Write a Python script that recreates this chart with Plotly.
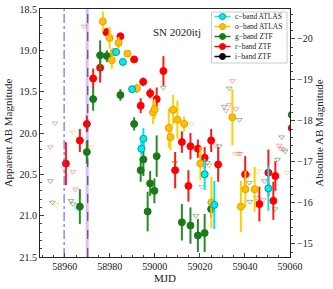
import plotly.graph_objects as go

# ---------------- data ----------------
r_mjd = [58960.5, 58966.7, 58969.8, 58972.6, 58975.7, 58978.5, 58984.7, 58990.8, 58993.7, 58994.8,
         58997.9, 59000.8, 59003.8, 59009.0, 59012.0, 59014.9, 59015.8, 59019.1, 59022.1, 59025.0,
         59028.1, 59040.1, 59046.4, 59050.4, 59052.6, 59053.5, 59060.8]
r_mag = [20.37, 20.09, 19.89, 19.34, 19.21, 18.78, 18.83, 19.11, 19.67, 19.38,
         19.52, 19.59, 19.25, 20.45, 20.11, 20.64, 20.16, 20.19, 20.30, 20.09,
         20.38, 20.50, 20.86, 20.48, 20.82, 20.52, 19.94]
r_err = [0.26, 0.14, 0.10, 0.12, 0.18, 0.05, 0.04, 0.03, 0.09, 0.05,
         0.06, 0.14, 0.18, 0.22, 0.13, 0.19, 0.16, 0.11, 0.13, 0.14,
         0.21, 0.22, 0.21, 0.28, 0.23, 0.18, 0.05]

o_mjd = [58976.9, 58979.9, 58980.9, 58981.8, 58983.9, 58987.8, 58992.0, 58999.2, 58999.9, 59006.2,
         59006.9, 59008.1, 59010.0, 59013.0, 59020.2, 59025.1, 59034.4, 59038.2, 59040.2, 59044.3]
o_mag = [18.65, 18.85, 19.12, 19.02, 18.91, 19.04, 19.46, 19.75, 19.71, 19.94,
         20.05, 19.72, 19.84, 19.89, 20.37, 20.84, 19.81, 20.89, 20.68, 20.68]
o_err = [0.12, 0.13, 0.10, 0.05, 0.07, 0.03, 0.06, 0.14, 0.12, 0.24,
         0.16, 0.18, 0.23, 0.09, 0.20, 0.31, 0.34, 0.31, 0.22, 0.27]

g_mjd = [58966.7, 58969.8, 58972.6, 58975.7, 58978.7, 58984.7, 58990.8, 58993.7, 58994.9, 58996.8,
         58997.9, 58999.8, 59000.8, 59012.0, 59015.8, 59019.1, 59022.1, 59025.0, 59060.8]
g_mag = [20.89, 20.23, 19.59, 19.06, 19.07, 19.54, 19.89, 20.45, 20.32, 20.95,
         20.61, 20.70, 20.28, 21.08, 21.12, 21.24, 21.21, 20.92, 19.78]
g_err = [0.21, 0.14, 0.14, 0.18, 0.07, 0.07, 0.08, 0.14, 0.20, 0.24,
         0.15, 0.15, 0.25, 0.22, 0.22, 0.20, 0.23, 0.10, 0.05]

c_mjd = [58982.8, 58985.8, 58989.9, 58994.0, 58994.9, 59022.1, 59026.4, 59050.4]
c_mag = [19.02, 19.14, 19.47, 20.19, 20.07, 20.50, 20.87, 20.67]
c_err = [0.03, 0.04, 0.04, 0.08, 0.13, 0.19, 0.29, 0.27]

# upper limits
r_ul_mjd = [58953.6, 58955.6, 58963.6, 58964.8, 58968.6, 59020.8, 59024.1, 59027.1, 59031.6, 59033.0,
            59034.4, 59036.0, 59036.9, 59037.8, 59041.5, 59048.1, 59050.1, 59055.3, 59055.9, 59057.0]
r_ul_mag = [20.17, 19.88, 20.47, 20.68, 18.71, 20.65, 20.39, 20.15, 19.73, 19.66,
            19.37, 19.71, 20.25, 20.25, 20.51, 20.81, 20.48, 20.15, 20.19, 20.20]
g_ul_mjd = [58953.6, 58954.5, 58962.7, 58963.7, 59003.7, 59008.8, 59018.2, 59023.3, 59028.6, 59030.7,
            59033.0, 59037.5, 59041.9, 59042.2, 59044.9, 59048.6, 59053.3, 59054.5, 59056.3, 59057.8]
g_ul_mag = [20.58, 20.84, 20.82, 20.86, 19.45, 20.36, 21.00, 20.36, 20.16, 19.68,
            19.46, 19.84, 20.60, 20.83, 20.78, 20.58, 20.92, 20.32, 20.05, 20.22]
o_ul_mjd = [58956.3, 58959.3, 58963.7, 58971.7, 59016.0, 59035.4, 59045.5, 59058.8]
o_ul_mag = [20.87, 20.42, 19.99, 20.17, 19.89, 20.25, 20.46, 20.48]
c_ul_mjd = [58965.5]
c_ul_mag = [20.92]

legend_labels = ["c\u2212band ATLAS", "o\u2212band ATLAS", "g\u2212band ZTF", "r\u2212band ZTF", "i\u2212band ZTF"]
legend_colors = ["#00EEEE", "#FFC000", "#1A7A1A", "#FF0000", "#000000"]
legend_edges = ["#009AA8", "#E8A000", "#1A7A1A", "#FF0000", "#000000"]

x_range = [58949, 59060]
y_range = [21.5, 18.5]
y2_range = [-14.68, -20.73]
lines_mjd = {"blue": 58959.7, "band0": 58969.3, "band1": 58970.6, "dash": 58970.2}

FONT = "Liberation Serif"

fig = go.Figure()

# upper limits
for xs, ys, col in [(r_ul_mjd, r_ul_mag, "rgba(255,90,90,0.5)"),
                    (g_ul_mjd, g_ul_mag, "rgba(40,130,40,0.5)"),
                    (o_ul_mjd, o_ul_mag, "rgba(255,190,60,0.5)"),
                    (c_ul_mjd, c_ul_mag, "rgba(0,200,210,0.45)")]:
    fig.add_trace(go.Scatter(x=xs, y=ys, mode="markers", showlegend=False,
                             marker=dict(symbol="triangle-down-open", size=5, color=col,
                                         line=dict(width=1, color=col))))

# detections
for name, xs, ys, es, fill, edge, ecol in [
        ("r-band ZTF", r_mjd, r_mag, r_err, "#FF0000", "#FF0000", "#FF1A1A"),
        ("g-band ZTF", g_mjd, g_mag, g_err, "#1A7A1A", "#1A7A1A", "#2A8A2A"),
        ("o-band ATLAS", o_mjd, o_mag, o_err, "#FFC000", "#E8A000", "#FFD000"),
        ("c-band ATLAS", c_mjd, c_mag, c_err, "#00EEEE", "#009AA8", "#00E5F0")]:
    fig.add_trace(go.Scatter(x=xs, y=ys, mode="markers", name=name, showlegend=False,
                             error_y=dict(type="data", array=es, color=ecol, thickness=2, width=0),
                             marker=dict(symbol="circle", size=7, color=fill,
                                         line=dict(width=1, color=edge))))

# dummy trace to activate right axis
fig.add_trace(go.Scatter(x=[None], y=[None], yaxis="y2", showlegend=False, hoverinfo="skip"))

shapes = []
shapes.append(dict(type="rect", xref="x", yref="paper", x0=lines_mjd["band0"], x1=lines_mjd["band1"],
                   y0=0, y1=1, fillcolor="rgba(170,110,255,0.45)", line=dict(width=0), layer="below"))
shapes.append(dict(type="line", xref="x", yref="paper", x0=lines_mjd["dash"], x1=lines_mjd["dash"],
                   y0=0, y1=1, line=dict(color="#555555", width=1.2, dash="dash")))
shapes.append(dict(type="line", xref="x", yref="paper", x0=lines_mjd["blue"], x1=lines_mjd["blue"],
                   y0=0, y1=1, line=dict(color="#5050FF", width=1, dash="dashdot")))


def px2paper_x(px):
    return (px - 40) / 250.0


def px2paper_y(py):
    return 1 - (py - 9) / 248.0


shapes.append(dict(type="rect", xref="paper", yref="paper",
                   x0=px2paper_x(211.5), x1=px2paper_x(287), y0=px2paper_y(63), y1=px2paper_y(12),
                   fillcolor="rgba(255,255,255,0.85)", line=dict(color="#cccccc", width=1)))
annotations = []
for i, (lab, col, edg) in enumerate(zip(legend_labels, legend_colors, legend_edges)):
    py = 16.5 + 10 * i
    yp = px2paper_y(py)
    shapes.append(dict(type="line", xref="paper", yref="paper",
                       x0=px2paper_x(214.5), x1=px2paper_x(230.5), y0=yp, y1=yp,
                       line=dict(color=col, width=1.5)))
    shapes.append(dict(type="circle", xref="paper", yref="paper", xsizemode="pixel", ysizemode="pixel",
                       xanchor=px2paper_x(222.5), yanchor=yp, x0=-3, x1=3, y0=-3, y1=3,
                       fillcolor=col, line=dict(color=edg, width=1)))
    annotations.append(dict(xref="paper", yref="paper", x=px2paper_x(233), y=yp, text=lab,
                            showarrow=False, xanchor="left", yanchor="middle",
                            font=dict(family=FONT, size=7.5, color="#222222")))

annotations.append(dict(xref="paper", yref="paper", x=px2paper_x(177), y=px2paper_y(32),
                        text="SN 2020itj", showarrow=False, xanchor="center", yanchor="middle",
                        font=dict(family=FONT, size=11, color="#222222")))

fig.update_layout(
    width=333, height=289,
    margin=dict(l=40, r=43, t=9, b=32, autoexpand=False),
    paper_bgcolor="white", plot_bgcolor="white",
    font=dict(family=FONT, size=10, color="#222222"),
    showlegend=False,
    shapes=shapes, annotations=annotations,
    xaxis=dict(range=x_range, tick0=58960, dtick=20, tickformat="d", ticks="inside", ticklen=4,
               showline=True, linecolor="#222222", linewidth=1, mirror=True, showgrid=False,
               zeroline=False, tickfont=dict(size=10),
               minor=dict(ticks="inside", ticklen=2, dtick=5, tick0=58960, tickcolor="#444444"),
               title=dict(text="MJD", font=dict(size=11), standoff=2)),
    yaxis=dict(range=y_range, tick0=18.5, dtick=0.5, tickformat=".1f", ticks="inside", ticklen=4,
               showline=True, linecolor="#222222", linewidth=1, showgrid=False, zeroline=False,
               tickfont=dict(size=10),
               minor=dict(ticks="inside", ticklen=2, dtick=0.1, tickcolor="#444444"),
               title=dict(text="Apparent AB Magnitude", font=dict(size=11), standoff=4)),
    yaxis2=dict(range=y2_range, overlaying="y", side="right", dtick=1, ticks="outside", ticklen=4,
                showline=True, linecolor="#222222", linewidth=1, showgrid=False, zeroline=False,
                tickfont=dict(size=10),
                minor=dict(ticks="outside", ticklen=2, dtick=0.2, tickcolor="#444444"),
                title=dict(text="Absolute AB Magnitude", font=dict(size=11), standoff=2)),
)

fig.write_html("out.html", config={"displayModeBar": False},
               post_script="document.body.style.margin='0';")
